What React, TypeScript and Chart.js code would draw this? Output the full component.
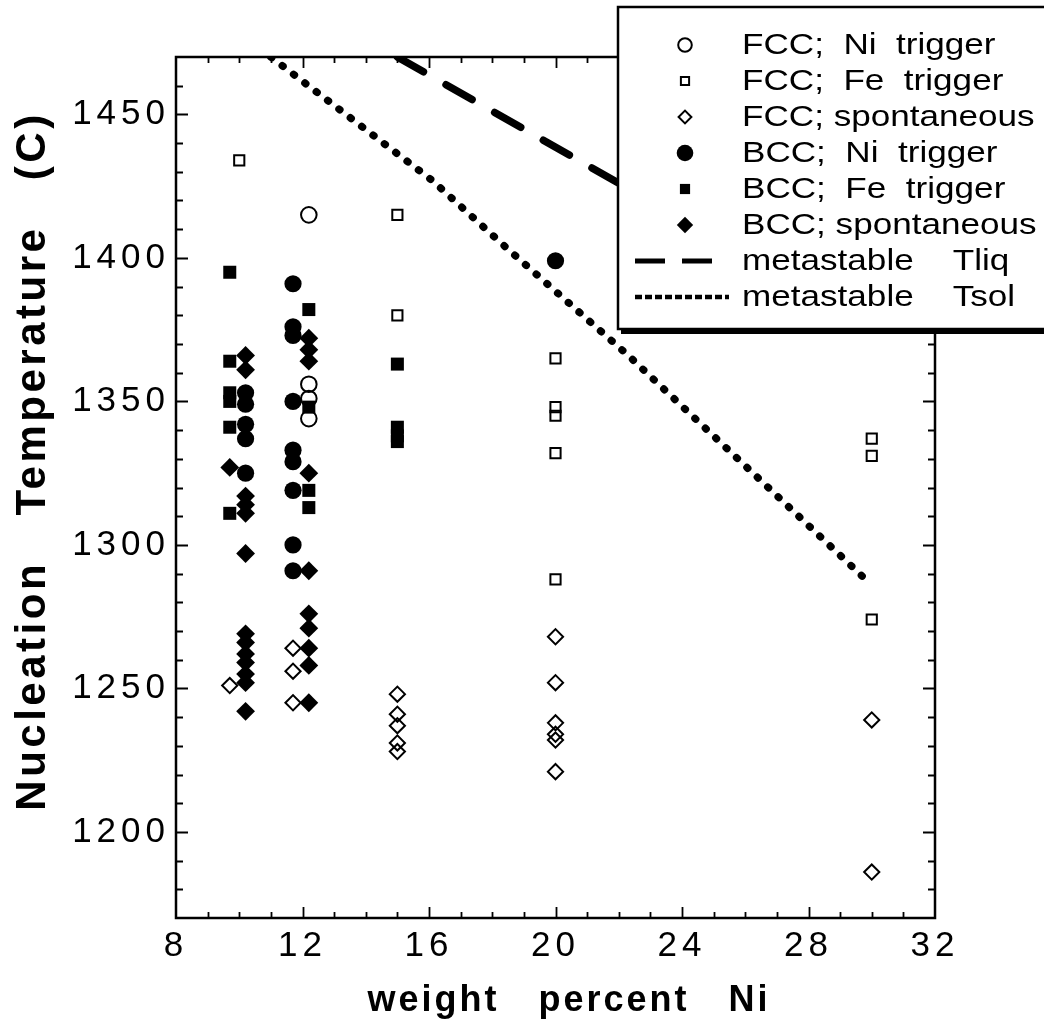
import React, { useEffect, useRef } from 'react';
import { Chart, registerables } from 'chart.js';
import { drawPoint } from 'chart.js/helpers';

Chart.register(...registerables);

const FONT = '"Liberation Sans", Arial, Helvetica, sans-serif';

// axis ticks
const X_TICKS = [8, 12, 16, 20, 24, 28, 32];
const Y_TICKS = [1200, 1250, 1300, 1350, 1400, 1450];
const X_RANGE = [8, 32];
const Y_RANGE = [1170, 1470];

// data: [weight % Ni, nucleation temperature (C)]
const FCC_NI_TRIGGER: [number, number][] = [
  [12.2, 1415], [12.2, 1356], [12.2, 1351], [12.2, 1344],
];
const FCC_FE_TRIGGER: [number, number][] = [
  [10.0, 1434], [15, 1415], [15, 1380],
  [20, 1365], [20, 1348], [20, 1345], [20, 1332], [20, 1288],
  [30, 1337], [30, 1331], [30, 1274],
];
const FCC_SPONTANEOUS: [number, number][] = [
  [9.7, 1251], [11.7, 1264], [11.7, 1256], [11.7, 1245],
  [15, 1248], [15, 1241], [15, 1237], [15, 1231], [15, 1228],
  [20, 1268], [20, 1252], [20, 1238], [20, 1234], [20, 1232], [20, 1221],
  [30, 1239], [30, 1186],
];
const BCC_NI_TRIGGER: [number, number][] = [
  [10.2, 1353], [10.2, 1349], [10.2, 1342], [10.2, 1337], [10.2, 1325],
  [11.7, 1391], [11.7, 1376], [11.7, 1373], [11.7, 1350], [11.7, 1333],
  [11.7, 1329], [11.7, 1319], [11.7, 1300], [11.7, 1291],
  [20, 1399],
];
const BCC_FE_TRIGGER: [number, number][] = [
  [9.7, 1395], [9.7, 1364], [9.7, 1353], [9.7, 1350], [9.7, 1341], [9.7, 1311],
  [12.2, 1382], [12.2, 1348], [12.2, 1319], [12.2, 1313],
  [15, 1363], [15, 1341], [15, 1338], [15, 1336],
];
const BCC_SPONTANEOUS: [number, number][] = [
  [9.7, 1327],
  [10.2, 1366], [10.2, 1361], [10.2, 1317], [10.2, 1314], [10.2, 1311], [10.2, 1297],
  [10.2, 1269], [10.2, 1266], [10.2, 1262], [10.2, 1259], [10.2, 1255], [10.2, 1252], [10.2, 1242],
  [12.2, 1372], [12.2, 1368], [12.2, 1364], [12.2, 1325], [12.2, 1291],
  [12.2, 1276], [12.2, 1271], [12.2, 1264], [12.2, 1258], [12.2, 1245],
];
const TLIQ: [number, number][] = [[15.0, 1470], [29.0, 1382]];
const TSOL: [number, number][] = [[11.0, 1470], [16.1, 1427], [18.5, 1403], [22.3, 1366], [29.9, 1287]];

const LABELS = [
  'FCC;  Ni  trigger',
  'FCC;  Fe  trigger',
  'FCC; spontaneous',
  'BCC;  Ni  trigger',
  'BCC;  Fe  trigger',
  'BCC; spontaneous',
  'metastable    Tliq',
  'metastable    Tsol',
];

const toPts = (arr: [number, number][]) => arr.map(([x, y]) => ({ x, y }));

function markerSet(label: string, data: [number, number][], style: string, radius: number, filled: boolean, legendRadius: number) {
  return {
    label,
    data: toPts(data),
    pointStyle: style,
    pointRadius: radius,
    pointHoverRadius: radius,
    pointBackgroundColor: filled ? '#000' : 'rgba(0,0,0,0)',
    pointBorderColor: '#000',
    pointBorderWidth: filled ? 0 : 2,
    showLine: false,
    legendRadius,
    legendFilled: filled,
  };
}

const axesPlugin = {
  id: 'axesFrame',
  beforeDraw(chart: any) {
    chart.ctx.letterSpacing = '5px';
  },
  beforeDatasetsDraw(chart: any) {
    const { ctx, chartArea: a, scales } = chart;
    const xs = scales.x;
    const ys = scales.y;
    ctx.save();
    ctx.letterSpacing = '0px';
    ctx.strokeStyle = '#000';
    ctx.lineWidth = 1.8;
    ctx.beginPath();
    for (let v = X_RANGE[0] + 1; v < X_RANGE[1]; v += 1) {
      const px = Math.round(xs.getPixelForValue(v)) + 0.5;
      const len = X_TICKS.includes(v) ? 11 : 6;
      ctx.moveTo(px, a.bottom);
      ctx.lineTo(px, a.bottom - len);
      ctx.moveTo(px, a.top);
      ctx.lineTo(px, a.top + len);
    }
    for (let v = Y_RANGE[0] + 10; v < Y_RANGE[1]; v += 10) {
      const py = Math.round(ys.getPixelForValue(v)) + 0.5;
      const len = Y_TICKS.includes(v) ? 12 : 7;
      ctx.moveTo(a.left, py);
      ctx.lineTo(a.left + len, py);
      ctx.moveTo(a.right, py);
      ctx.lineTo(a.right - len, py);
    }
    ctx.stroke();
    ctx.lineWidth = 2.5;
    ctx.strokeRect(a.left, a.top, a.right - a.left, a.bottom - a.top);
    ctx.restore();
  },
  afterDraw(chart: any) {
    const { ctx } = chart;
    ctx.save();
    ctx.fillStyle = '#000';
    // x title
    ctx.font = `bold 36px ${FONT}`;
    ctx.letterSpacing = '3px';
    ctx.textAlign = 'center';
    ctx.textBaseline = 'alphabetic';
    ctx.fillText('weight   percent   Ni', 569, 1011);
    // y title
    ctx.save();
    ctx.translate(45, 461);
    ctx.rotate(-Math.PI / 2);
    ctx.font = `bold 42px ${FONT}`;
    ctx.letterSpacing = '3.5px';
    ctx.fillText('Nucleation   Temperature   (C)', 0, 0);
    ctx.restore();

    // legend box
    ctx.letterSpacing = '0px';
    ctx.fillStyle = '#fff';
    ctx.fillRect(618, 7, 500, 322);
    ctx.strokeStyle = '#000';
    ctx.lineWidth = 2.5;
    ctx.strokeRect(618, 7, 500, 322);
    ctx.fillStyle = '#000';
    ctx.fillRect(621, 328, 430, 6);

    const mx = 685;
    const tx = 742;
    chart.data.datasets.forEach((ds: any, i: number) => {
      const y = 45 + i * 36;
      if (ds.showLine) {
        ctx.save();
        ctx.strokeStyle = '#000';
        ctx.lineWidth = ds.legendWidth;
        ctx.setLineDash(ds.legendDash);
        ctx.lineCap = 'butt';
        ctx.beginPath();
        ctx.moveTo(635, y);
        ctx.lineTo(729, y);
        ctx.stroke();
        ctx.restore();
      } else {
        ctx.save();
        ctx.fillStyle = ds.legendFilled ? '#000' : 'rgba(0,0,0,0)';
        ctx.strokeStyle = '#000';
        ctx.lineWidth = ds.legendFilled ? 0 : 2;
        drawPoint(ctx, { pointStyle: ds.pointStyle, radius: ds.legendRadius, borderWidth: ds.legendFilled ? 0 : 2, rotation: 0 } as any, mx, y);
        ctx.restore();
      }
      ctx.save();
      ctx.translate(tx, y);
      ctx.scale(1.17, 1);
      ctx.fillStyle = '#000';
      ctx.font = `30px ${FONT}`;
      ctx.textAlign = 'left';
      ctx.textBaseline = 'middle';
      ctx.fillText(ds.label, 0, 1);
      ctx.restore();
    });
    ctx.restore();
  },
};

export default function App() {
  const ref = useRef<HTMLCanvasElement | null>(null);
  useEffect(() => {
    if (!ref.current) return;
    const chart = new Chart(ref.current, {
      type: 'scatter',
      data: {
        datasets: [
          markerSet(LABELS[0], FCC_NI_TRIGGER, 'circle', 7.8, false, 6.8),
          markerSet(LABELS[1], FCC_FE_TRIGGER, 'rect', 7.2, false, 5.8),
          markerSet(LABELS[2], FCC_SPONTANEOUS, 'rectRot', 7.6, false, 6.4),
          markerSet(LABELS[3], BCC_NI_TRIGGER, 'circle', 8.6, true, 8.3),
          markerSet(LABELS[4], BCC_FE_TRIGGER, 'rect', 9.2, true, 7.2),
          markerSet(LABELS[5], BCC_SPONTANEOUS, 'rectRot', 9.4, true, 8.2),
          {
            label: LABELS[6],
            data: toPts(TLIQ),
            showLine: true,
            pointRadius: 0,
            borderColor: '#000',
            borderWidth: 7.5,
            borderDash: [30, 26],
            borderCapStyle: 'round',
            clip: 0,
            legendDash: [30, 17],
            legendWidth: 5,
          } as any,
          {
            label: LABELS[7],
            data: toPts(TSOL),
            showLine: true,
            pointRadius: 0,
            borderColor: '#000',
            borderWidth: 7.5,
            borderDash: [1, 13.3],
            borderCapStyle: 'round',
            clip: 0,
            legendDash: [7, 3],
            legendWidth: 4.5,
          } as any,
        ],
      },
      options: {
        animation: false,
        responsive: false,
        devicePixelRatio: 1,
        layout: { padding: { top: 57, right: 109, left: 0, bottom: 0 } },
        plugins: { legend: { display: false }, tooltip: { enabled: false } },
        scales: {
          x: {
            type: 'linear',
            min: X_RANGE[0],
            max: X_RANGE[1],
            afterBuildTicks: (s: any) => { s.ticks = X_TICKS.map((value) => ({ value })); },
            afterFit: (s: any) => { s.height = 112; },
            grid: { display: false, drawTicks: false },
            border: { display: false },
            ticks: { font: { family: FONT, size: 35 }, color: '#000', padding: 7, maxRotation: 0, autoSkip: false, callback: (v: any) => String(v) },
          },
          y: {
            type: 'linear',
            min: Y_RANGE[0],
            max: Y_RANGE[1],
            afterBuildTicks: (s: any) => { s.ticks = Y_TICKS.map((value) => ({ value })); },
            afterFit: (s: any) => { s.width = 176; },
            grid: { display: false, drawTicks: false },
            border: { display: false },
            ticks: { font: { family: FONT, size: 35 }, color: '#000', padding: 6, autoSkip: false, callback: (v: any) => String(v) },
          },
        },
      } as any,
      plugins: [axesPlugin],
    });
    return () => chart.destroy();
  }, []);
  return (
    <div style={{ position: 'absolute', left: 0, top: 0, width: 1044, height: 1030, background: '#fff' }}>
      <canvas ref={ref} width={1044} height={1030} style={{ display: 'block' }} />
    </div>
  );
}
